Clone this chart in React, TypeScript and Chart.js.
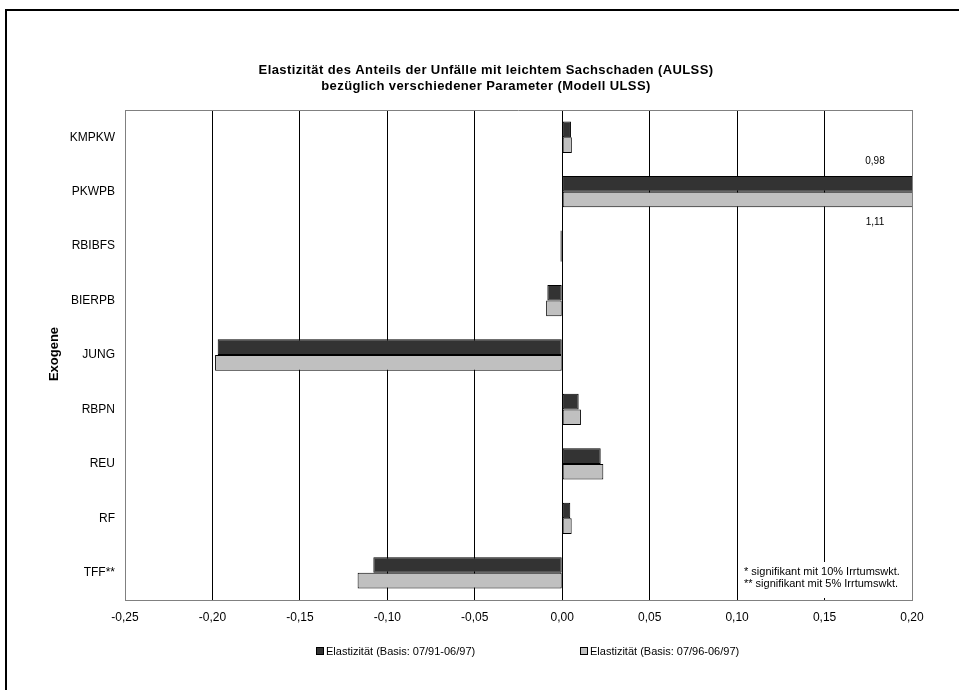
import React, { useEffect, useRef } from "react";
import { Chart, registerables } from "chart.js";

Chart.register(...registerables);

const categories = ["KMPKW", "PKWPB", "RBIBFS", "BIERPB", "JUNG", "RBPN", "REU", "RF", "TFF**"];
const series1Label = "Elastizität (Basis: 07/91-06/97)";
const series2Label = "Elastizität (Basis: 07/96-06/97)";
const series1 = [0.005, 0.98, -0.001, -0.0085, -0.197, 0.0094, 0.022, 0.0046, -0.108];
const series2 = [0.0055, 1.11, -0.001, -0.0092, -0.1985, 0.0107, 0.0235, 0.0054, -0.117];
const titleLines = [
  "Elastizität des Anteils der Unfälle mit leichtem Sachschaden (AULSS)",
  "bezüglich verschiedener Parameter (Modell ULSS)",
];
const axisTitle = "Exogene";
const notes = ["* signifikant mit 10% Irrtumswkt.", "** signifikant mit 5% Irrtumswkt."];
const xMin = -0.25;
const xMax = 0.2;
const xStep = 0.05;

const FONT = "'Liberation Sans', Arial, Helvetica, sans-serif";
const DARK = "#333333";
const LIGHT = "#c0c0c0";

const fmt = (v: number) => (Math.round(v * 100) / 100).toFixed(2).replace(".", ",");

const decorPlugin = {
  id: "decor",
  beforeDraw(chart: any) {
    const { ctx, width, height } = chart;
    ctx.save();
    ctx.fillStyle = "#ffffff";
    ctx.fillRect(0, 0, width, height);
    ctx.strokeStyle = "#000000";
    ctx.lineWidth = 2;
    ctx.beginPath();
    ctx.moveTo(6, height);
    ctx.lineTo(6, 10);
    ctx.lineTo(width, 10);
    ctx.stroke();
    ctx.restore();
  },
  afterDraw(chart: any) {
    const { ctx, chartArea } = chart;
    ctx.save();
    // top border of plot
    ctx.strokeStyle = "#808080";
    ctx.lineWidth = 1;
    ctx.beginPath();
    ctx.moveTo(chartArea.left, chartArea.top + 0.5);
    ctx.lineTo(chartArea.right, chartArea.top + 0.5);
    ctx.stroke();

    // title
    ctx.fillStyle = "#000";
    ctx.font = `bold 13px ${FONT}`;
    (ctx as any).letterSpacing = "0.4px";
    ctx.textAlign = "center";
    ctx.textBaseline = "middle";
    const cx = 486;
    titleLines.forEach((t, i) => ctx.fillText(t, cx, 70 + i * 16));
    (ctx as any).letterSpacing = "0px";

    // y-axis title
    ctx.save();
    ctx.translate(54, 354);
    ctx.rotate(-Math.PI / 2);
    ctx.font = `bold 13px ${FONT}`;
    ctx.fillText(axisTitle, 0, 0);
    ctx.restore();

    // out-of-range value labels
    ctx.font = `10px ${FONT}`;
    ctx.fillStyle = "#000";
    const m0 = chart.getDatasetMeta(0);
    const m1 = chart.getDatasetMeta(1);
    series1.forEach((v, i) => {
      if (v > xMax) {
        const el = m0.data[i];
        ctx.fillText(fmt(v), chartArea.right - 37, el.y - el.height / 2 - 15);
      }
    });
    series2.forEach((v, i) => {
      if (v > xMax) {
        const el = m1.data[i];
        ctx.fillText(fmt(v), chartArea.right - 37, el.y + el.height / 2 + 15);
      }
    });

    // notes box
    ctx.fillStyle = "#ffffff";
    ctx.fillRect(741, 562, chartArea.right - 742, 36);
    ctx.fillStyle = "#000";
    ctx.textAlign = "left";
    ctx.font = `11px ${FONT}`;
    notes.forEach((n, i) => ctx.fillText(n, 744, 572 + i * 12));

    // legend
    const items = [
      { label: series1Label, color: DARK, x: 316 },
      { label: series2Label, color: LIGHT, x: 580 },
    ];
    const ly = 652;
    items.forEach((it) => {
      ctx.fillStyle = it.color;
      ctx.fillRect(it.x, ly - 4, 7, 7);
      ctx.strokeStyle = "#000";
      ctx.lineWidth = 1;
      ctx.strokeRect(it.x + 0.5, ly - 4.5, 7, 7);
      ctx.fillStyle = "#000";
      ctx.font = `11px ${FONT}`;
      ctx.textAlign = "left";
      ctx.fillText(it.label, it.x + 10, ly);
    });
    ctx.restore();
  },
};

export default function App() {
  const ref = useRef<HTMLCanvasElement>(null);
  useEffect(() => {
    document.body.style.margin = "0";
    if (!ref.current) return;
    const chart = new Chart(ref.current, {
      type: "bar",
      data: {
        labels: categories,
        datasets: [
          {
            label: series1Label,
            data: series1,
            backgroundColor: DARK,
            borderColor: "#000",
            borderWidth: 1,
            borderSkipped: false,
            categoryPercentage: 0.575,
            barPercentage: 1,
          },
          {
            label: series2Label,
            data: series2,
            backgroundColor: LIGHT,
            borderColor: "#000",
            borderWidth: 1,
            borderSkipped: false,
            categoryPercentage: 0.575,
            barPercentage: 1,
          },
        ],
      },
      options: {
        indexAxis: "y",
        responsive: false,
        animation: false,
        layout: { padding: { left: 43, right: 47, top: 110, bottom: 60 } },
        plugins: {
          legend: { display: false },
          title: { display: false },
          tooltip: { enabled: false },
        },
        scales: {
          x: {
            type: "linear",
            min: xMin,
            max: xMax,
            ticks: {
              stepSize: xStep,
              padding: 10,
              color: "#000",
              font: { family: FONT, size: 12 },
              callback: (v: any) => fmt(Number(v)),
            },
            grid: {
              drawTicks: false,
              color: (c: any) => {
                const v = c.tick ? c.tick.value : 0;
                return Math.abs(v - xMin) < 1e-6 || Math.abs(v - xMax) < 1e-6 ? "#808080" : "#000000";
              },
              lineWidth: 1,
            },
            border: { display: true, color: "#808080", width: 1 },
            afterFit: (s: any) => {
              s.height = 30;
            },
          },
          y: {
            type: "category",
            ticks: {
              padding: 10,
              color: "#000",
              font: { family: FONT, size: 12 },
            },
            grid: { display: false, drawTicks: false },
            border: { display: true, color: "#808080", width: 1 },
            afterFit: (s: any) => {
              s.width = 82;
            },
          },
        },
      },
      plugins: [decorPlugin],
    } as any);
    return () => chart.destroy();
  }, []);
  return <canvas ref={ref} width={959} height={690} style={{ display: "block" }} />;
}
